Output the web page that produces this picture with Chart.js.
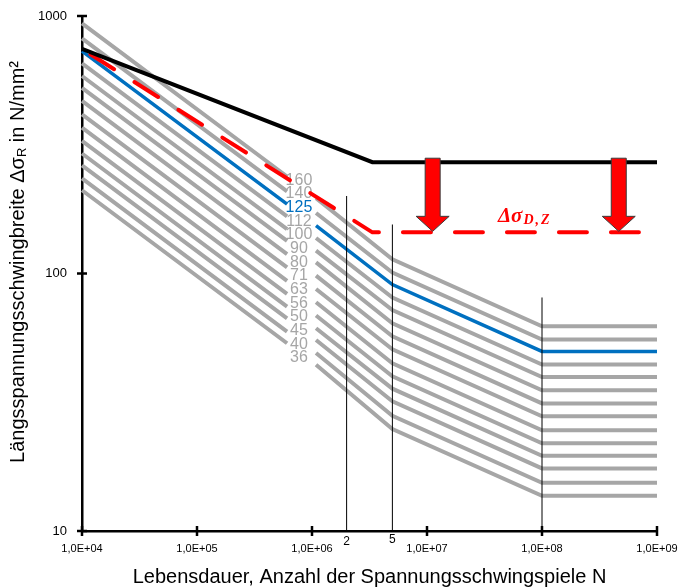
<!DOCTYPE html>
<html><head><meta charset="utf-8">
<script src="https://cdn.jsdelivr.net/npm/chart.js@4.4.1/dist/chart.umd.min.js"></script>
<style>html,body{margin:0;padding:0;background:#fff}#wrap{width:680px;height:588px;position:relative}</style>
</head><body><div id="wrap"><canvas id="c" width="680" height="588"></canvas></div>
<script>
// ---- data ----
const categories = [160,140,125,112,100,90,80,71,63,56,50,45,40,36];
const breakN     = [1e4, 6.07e5, 1.084e6, 5e6, 1e8, 1e9]; // line gap between 2nd and 3rd point (label column)
const at1e4      = [935.7,818.7,731.0,655.0,584.8,526.3,467.8,415.2,368.4,327.5,292.4,263.2,233.9,210.5];
const atGapStart = [238.1,208.3,186.0,166.7,148.8,133.9,119.0,105.6,93.7,83.3,74.4,67.0,59.5,53.6];
const atGapEnd   = [196.2,171.7,153.3,137.4,122.7,110.4,98.1,87.1,77.3,68.7,61.3,55.2,49.1,44.2];
const at5e6      = [113.6,100.8,90.6,80.6,72.1,64.1,57.0,50.8,44.8,39.9,35.7,31.9,28.0,24.9];
const at1e8      = [62.4,55.4,49.8,44.3,39.6,35.2,31.3,27.9,24.6,21.9,19.6,17.5,15.4,13.7];
const at1e9      = [62.4,55.4,49.8,44.3,39.6,35.2,31.3,27.9,24.6,21.9,19.6,17.5,15.4,13.7];
const blackN = [1e4, 3.35e6, 1e9];
const blackS = [745, 270.5, 270.5];
const redN   = [1e4, 3.35e6, 1e9];
const redS   = [745, 144.5, 144.5];
const markerN   = [2e6, 5e6, 1e8];
const markerTop = [200, 155, 80.7];
const markerLabels = ['2','5',''];
const arrowN = [1.12e7, 4.65e8];
const xTicks = [1e4,1e5,1e6,1e7,1e8,1e9];
const xTickLabels = ['1,0E+04','1,0E+05','1,0E+06','1,0E+07','1,0E+08','1,0E+09'];
const yTicks = [10,100,1000];
const yTickLabels = ['10','100','1000'];

const GRAY = '#A6A6A6', BLUE = '#0070C0', RED = '#FF0000';
const FONT = "'Liberation Sans', Arial, sans-serif";

const datasets = [];
datasets.push({label:'black', data: blackN.map((n,i)=>({x:n,y:blackS[i]})), borderColor:'#000', borderWidth:4, order:0});
datasets.push({label:'red', data: redN.map((n,i)=>({x:n,y:redS[i]})), borderColor:RED, borderWidth:4,
  borderDash:[28,24], borderDashOffset:42, borderCapStyle:'round', order:1});
markerN.forEach((n,i)=>datasets.push({label:'m'+i, data:[{x:n,y:10},{x:n,y:markerTop[i]}], borderColor:'#000', borderWidth:1, order:2}));
categories.forEach((c,i)=>{
  const pts = [
    {x:breakN[0],y:at1e4[i]},{x:breakN[1],y:atGapStart[i]},
    {x:8e5,y:null},
    {x:breakN[2],y:atGapEnd[i]},{x:breakN[3],y:at5e6[i]},{x:breakN[4],y:at1e8[i]},{x:breakN[5],y:at1e9[i]}];
  datasets.push({label:String(c), data:pts, borderColor: c===125?BLUE:GRAY, borderWidth: c===125?3.5:4,
    order: c===125?3:4, spanGaps:false});
});
datasets.forEach(d=>{d.showLine=true; d.pointRadius=0; d.pointHoverRadius=0; d.fill=false; d.tension=0; d.clip=false;});

const deco = {
  id:'deco',
  beforeDatasetsDraw(chart){
    const {ctx, scales:{x,y}} = chart;
    ctx.save();
    ctx.font = '16px ' + FONT;
    ctx.textAlign='center'; ctx.textBaseline='middle';
    const cx = x.getPixelForValue(7.7e5);
    const y0 = y.getPixelForValue(230);
    categories.forEach((c,i)=>{
      ctx.fillStyle = c===125?BLUE:GRAY;
      ctx.fillText(String(c), cx, y0 + i*13.67);
    });
    ctx.restore();
  },
  afterDatasetsDraw(chart){
    const {ctx, scales:{x,y}} = chart;
    ctx.save();
    const yb = y.getPixelForValue(blackS[1]);
    const yr = y.getPixelForValue(redS[1]);
    arrowN.forEach(n=>{
      const cx = x.getPixelForValue(n);
      const top = yb-4, tip = yr-1, hs = tip-15;
      ctx.beginPath();
      ctx.moveTo(cx-7.5, top); ctx.lineTo(cx+7.5, top); ctx.lineTo(cx+7.5, hs);
      ctx.lineTo(cx+16.5, hs); ctx.lineTo(cx, tip); ctx.lineTo(cx-16.5, hs); ctx.lineTo(cx-7.5, hs);
      ctx.closePath();
      ctx.fillStyle = RED; ctx.fill();
      ctx.strokeStyle = '#3a3a3a'; ctx.lineWidth = 1; ctx.stroke();
    });
    // Δσ_D,Z label
    const tx = x.getPixelForValue(4.14e7), ty = y.getPixelForValue(159);
    ctx.fillStyle = RED; ctx.textAlign='left'; ctx.textBaseline='alphabetic';
    ctx.font = "bold italic 21px 'Liberation Serif', 'Times New Roman', serif";
    ctx.fillText('Δσ', tx, ty);
    const w = ctx.measureText('Δσ').width;
    ctx.font = "bold italic 14px 'Liberation Serif', 'Times New Roman', serif";
    let sx = tx + w + 1;
    ['D',',','Z'].forEach(ch=>{ ctx.fillText(ch, sx, ty + 2); sx += ctx.measureText(ch).width + 2; });
    ctx.restore();
  },
  afterDraw(chart){
    const {ctx, scales:{x,y}, chartArea:a} = chart;
    ctx.save();
    ctx.strokeStyle='#000'; ctx.lineWidth=2.5;
    xTicks.forEach(v=>{ const px = x.getPixelForValue(v);
      ctx.beginPath(); ctx.moveTo(px, a.bottom-5); ctx.lineTo(px, a.bottom+5); ctx.stroke(); });
    yTicks.forEach(v=>{ const py = y.getPixelForValue(v);
      ctx.beginPath(); ctx.moveTo(a.left-5, py); ctx.lineTo(a.left+5, py); ctx.stroke(); });
    ctx.fillStyle='#000'; ctx.font='12px '+FONT; ctx.textAlign='center'; ctx.textBaseline='middle';
    markerN.forEach((n,i)=>{ if(markerLabels[i]) ctx.fillText(markerLabels[i], x.getPixelForValue(n), a.bottom+(i===1?9:11)); });
    // x title
    ctx.font = '20px '+FONT; ctx.textBaseline='middle';
    ctx.fillText('Lebensdauer, Anzahl der Spannungsschwingspiele N', (a.left+a.right)/2, 577);
    // y title with subscript
    const p1 = 'Längsspannungsschwingbreite Δσ', p2 = 'R', p3 = ' in N/mm²';
    ctx.font = '20px '+FONT; const w1 = ctx.measureText(p1).width, w3 = ctx.measureText(p3).width;
    ctx.font = '13px '+FONT; const w2 = ctx.measureText(p2).width;
    const tot = w1+w2+w3;
    ctx.translate(18, 262); ctx.rotate(-Math.PI/2);
    ctx.textAlign='left'; ctx.textBaseline='middle';
    let sx = -tot/2;
    ctx.font = '20px '+FONT; ctx.fillText(p1, sx, 0); sx += w1;
    ctx.font = '13px '+FONT; ctx.fillText(p2, sx, 4); sx += w2;
    ctx.font = '20px '+FONT; ctx.fillText(p3, sx, 0);
    ctx.restore();
  }
};

new Chart(document.getElementById('c'), {
  type:'scatter',
  data:{datasets},
  options:{
    responsive:false, animation:false, events:[],
    layout:{padding:{top:16,right:23,left:0,bottom:0}},
    plugins:{legend:{display:false}, tooltip:{enabled:false}},
    scales:{
      x:{type:'logarithmic', min:1e4, max:1e9, z:1,
        afterBuildTicks:s=>{s.ticks = xTicks.map(v=>({value:v}));},
        afterFit:s=>{s.height = 57; s.paddingLeft = 0; s.paddingRight = 0;},
        grid:{display:false, drawTicks:false},
        border:{display:true, color:'#000', width:2.5},
        ticks:{autoSkip:false, maxRotation:0, padding:11, color:'#000', font:{family:FONT, size:11},
          callback:(v,i)=>xTickLabels[i]}},
      y:{type:'logarithmic', min:10, max:1000, z:1,
        afterBuildTicks:s=>{s.ticks = yTicks.map(v=>({value:v}));},
        afterFit:s=>{s.width = 82; s.paddingTop = 0; s.paddingBottom = 0;},
        grid:{display:false, drawTicks:false},
        border:{display:true, color:'#000', width:2.5},
        ticks:{autoSkip:false, padding:15, color:'#000', font:{family:FONT, size:13},
          callback:(v,i)=>yTickLabels[i]}}
    }
  },
  plugins:[deco]
});
</script></body></html>
